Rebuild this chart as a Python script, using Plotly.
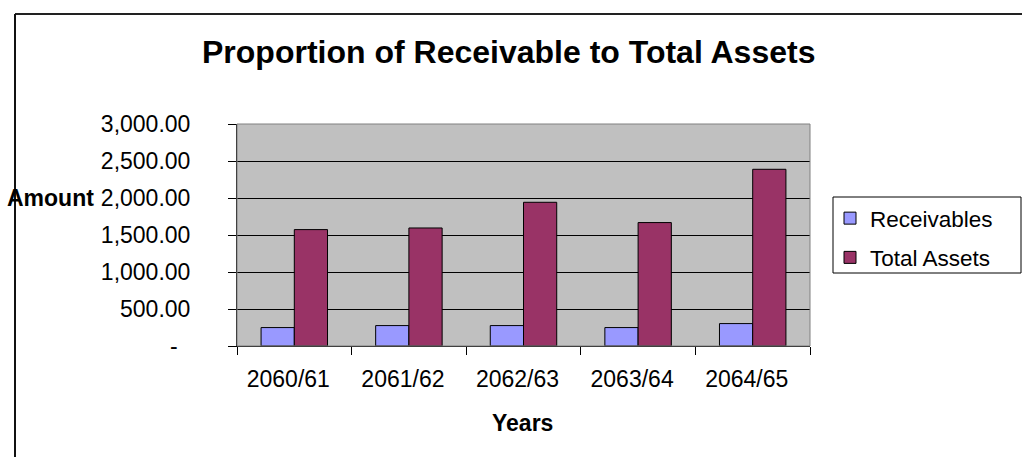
import plotly.graph_objects as go

# Data
years = ["2060/61", "2061/62", "2062/63", "2063/64", "2064/65"]
receivables = [249, 276, 276, 249, 303]
total_assets = [1573, 1595, 1942, 1668, 2388]
y_tick_values = [0, 500, 1000, 1500, 2000, 2500, 3000]
y_tick_labels = ["-\u00a0\u00a0", "500.00", "1,000.00", "1,500.00", "2,000.00", "2,500.00", "3,000.00"]

W, H = 1022, 457
L, R, T, B = 237, 810, 124, 346
FONT = "Liberation Sans, Arial, sans-serif"


def px_x(p):
    return (p - L) / (R - L)


def px_y(p):
    return (B - p) / (B - T)


fig = go.Figure()
fig.add_trace(go.Bar(
    x=years, y=receivables, name="Receivables",
    marker=dict(color="#9999FF", line=dict(color="black", width=1)),
    legendgroup="a",
))
fig.add_trace(go.Bar(
    x=years, y=total_assets, name="Total Assets",
    marker=dict(color="#993366", line=dict(color="black", width=1)),
    legendgroup="b",
))

shapes = [
    # plot area frame (top/right)
    dict(type="rect", xref="paper", yref="paper", x0=0, x1=1, y0=0, y1=1,
         line=dict(color="#808080", width=1), layer="above"),
    # legend box
    dict(type="rect", xref="paper", yref="paper",
         x0=px_x(833), x1=px_x(1021), y0=px_y(273), y1=px_y(197),
         line=dict(color="black", width=1), fillcolor="white", layer="below"),
    # chart area border
    dict(type="line", xref="paper", yref="paper",
         x0=px_x(15), x1=px_x(1030), y0=px_y(14), y1=px_y(14),
         line=dict(color="#222222", width=2)),
    dict(type="line", xref="paper", yref="paper",
         x0=px_x(15), x1=px_x(15), y0=px_y(14), y1=px_y(470),
         line=dict(color="#111111", width=2)),
]

annotations = [
    dict(text="<b>Proportion of Receivable to Total Assets</b>", xref="paper", yref="paper",
         x=px_x(508), y=px_y(52), xanchor="center", yanchor="middle", showarrow=False,
         font=dict(family=FONT, size=32, color="black")),
    dict(text="<b>Amount</b>", xref="paper", yref="paper",
         x=px_x(5), y=px_y(198), xanchor="left", yanchor="middle", showarrow=False,
         font=dict(family=FONT, size=23, color="black")),
    dict(text="<b>Years</b>", xref="paper", yref="paper",
         x=px_x(522), y=px_y(423), xanchor="center", yanchor="middle", showarrow=False,
         font=dict(family=FONT, size=23, color="black")),
]

fig.update_layout(
    width=W, height=H,
    margin=dict(l=L, r=W - R, t=T, b=H - B, pad=0),
    paper_bgcolor="white", plot_bgcolor="#C0C0C0",
    barmode="group", bargap=0.42, bargroupgap=0,
    font=dict(family=FONT, size=23, color="black"),
    showlegend=True,
    legend=dict(x=px_x(830), y=px_y(197), xanchor="left", yanchor="top",
                bgcolor="rgba(0,0,0,0)", borderwidth=0,
                traceorder="grouped", tracegroupgap=7,
                font=dict(family=FONT, size=22.5, color="black")),
    shapes=shapes, annotations=annotations,
)
fig.update_xaxes(
    type="category", showgrid=False, showline=True, linecolor="black", linewidth=1,
    ticks="outside", tickson="boundaries", ticklen=8, tickcolor="black",
    ticklabelstandoff=12, ticklabelshift=-6,
    tickfont=dict(family=FONT, size=23, color="black"),
)
fig.update_yaxes(
    range=[0, 3000], tickvals=y_tick_values, ticktext=y_tick_labels,
    showgrid=True, gridcolor="black", gridwidth=1, zeroline=False,
    showline=True, linecolor="black", linewidth=1,
    ticks="outside", ticklen=8, tickcolor="black", ticklabelstandoff=33,
    tickfont=dict(family=FONT, size=23, color="black"),
)

fig.write_html("out.html")
